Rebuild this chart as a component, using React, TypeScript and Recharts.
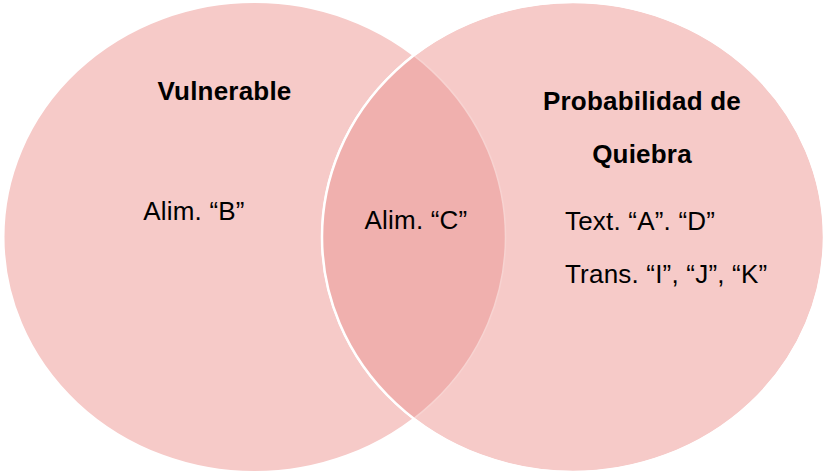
import React from "react";
import { ScatterChart, Scatter, XAxis, YAxis } from "recharts";

// Set names (titles) and members of each region of the Venn diagram
const leftTitle = ["Vulnerable"];
const rightTitle = ["Probabilidad de", "Quiebra"];
const leftOnly = ["Alim. \u201CB\u201D"];
const both = ["Alim. \u201CC\u201D"];
const rightOnly = ["Text. \u201CA\u201D. \u201CD\u201D", "Trans. \u201CI\u201D, \u201CJ\u201D, \u201CK\u201D"];

// Layout (in chart units, 1 unit = 1 px)
const W = 827;
const H = 473;
const circleLeft = { x: 254.5, y: 237, rx: 251, ry: 235 };
const circleRight = { x: 573, y: 237, rx: 251, ry: 235 };

const FILL = "#F6CAC8";
const LENS = "#F0B0AE";

const circles = [circleLeft, circleRight];

const labels = [
  { x: 224.5, y: 100, text: leftTitle[0], bold: true, anchor: "middle" },
  { x: 642, y: 110, text: rightTitle[0], bold: true, anchor: "middle" },
  { x: 642, y: 163, text: rightTitle[1], bold: true, anchor: "middle" },
  { x: 194, y: 220, text: leftOnly[0], bold: false, anchor: "middle" },
  { x: 416, y: 229, text: both[0], bold: false, anchor: "middle" },
  { x: 565, y: 230, text: rightOnly[0], bold: false, anchor: "start" },
  { x: 565, y: 283, text: rightOnly[1], bold: false, anchor: "start" },
];

const K = 1; // px per unit

const CircleShape = (props: any) => {
  const { cx, cy, payload } = props;
  return (
    <ellipse cx={cx} cy={cy} rx={payload.rx * K} ry={payload.ry * K} fill={FILL} stroke="#FFFFFF" strokeWidth={2} />
  );
};

const LensShape = (props: any) => {
  const { cx, cy } = props;
  const ox = cx + (circleRight.x - circleLeft.x) * K;
  const oy = cy + (circleRight.y - circleLeft.y) * K;
  return (
    <g>
      <defs>
        <clipPath id="clipRight">
          <ellipse cx={ox} cy={oy} rx={circleRight.rx * K} ry={circleRight.ry * K} />
        </clipPath>
      </defs>
      <ellipse
        cx={cx}
        cy={cy}
        rx={circleLeft.rx * K}
        ry={circleLeft.ry * K}
        fill={LENS}
        stroke="#F7D3D1"
        strokeWidth={1.5}
        clipPath="url(#clipRight)"
      />
      <ellipse cx={ox} cy={oy} rx={circleRight.rx * K} ry={circleRight.ry * K} fill="none" stroke="#FFFFFF" strokeWidth={2.5} />
    </g>
  );
};

const LabelShape = (props: any) => {
  const { cx, cy, payload } = props;
  return (
    <text
      x={cx}
      y={cy}
      textAnchor={payload.anchor}
      fontFamily="'Liberation Sans', Arial, sans-serif"
      fontSize={26}
      fontWeight={payload.bold ? 700 : 400}
      letterSpacing={0.2}
      fill="#000000"
    >
      {payload.text}
    </text>
  );
};

export default function App() {
  return (
    <div style={{ position: "absolute", left: 0, top: 0, width: W, height: H, background: "#FFFFFF" }}>
      <ScatterChart width={W} height={H} margin={{ top: 0, right: 0, bottom: 0, left: 0 }}>
        <XAxis type="number" dataKey="x" domain={[0, W]} hide />
        <YAxis type="number" dataKey="y" domain={[0, H]} reversed hide />
        <Scatter data={circles} shape={CircleShape} isAnimationActive={false} />
        <Scatter data={[circleLeft]} shape={LensShape} isAnimationActive={false} />
        <Scatter data={labels} shape={LabelShape} isAnimationActive={false} />
      </ScatterChart>
    </div>
  );
}
